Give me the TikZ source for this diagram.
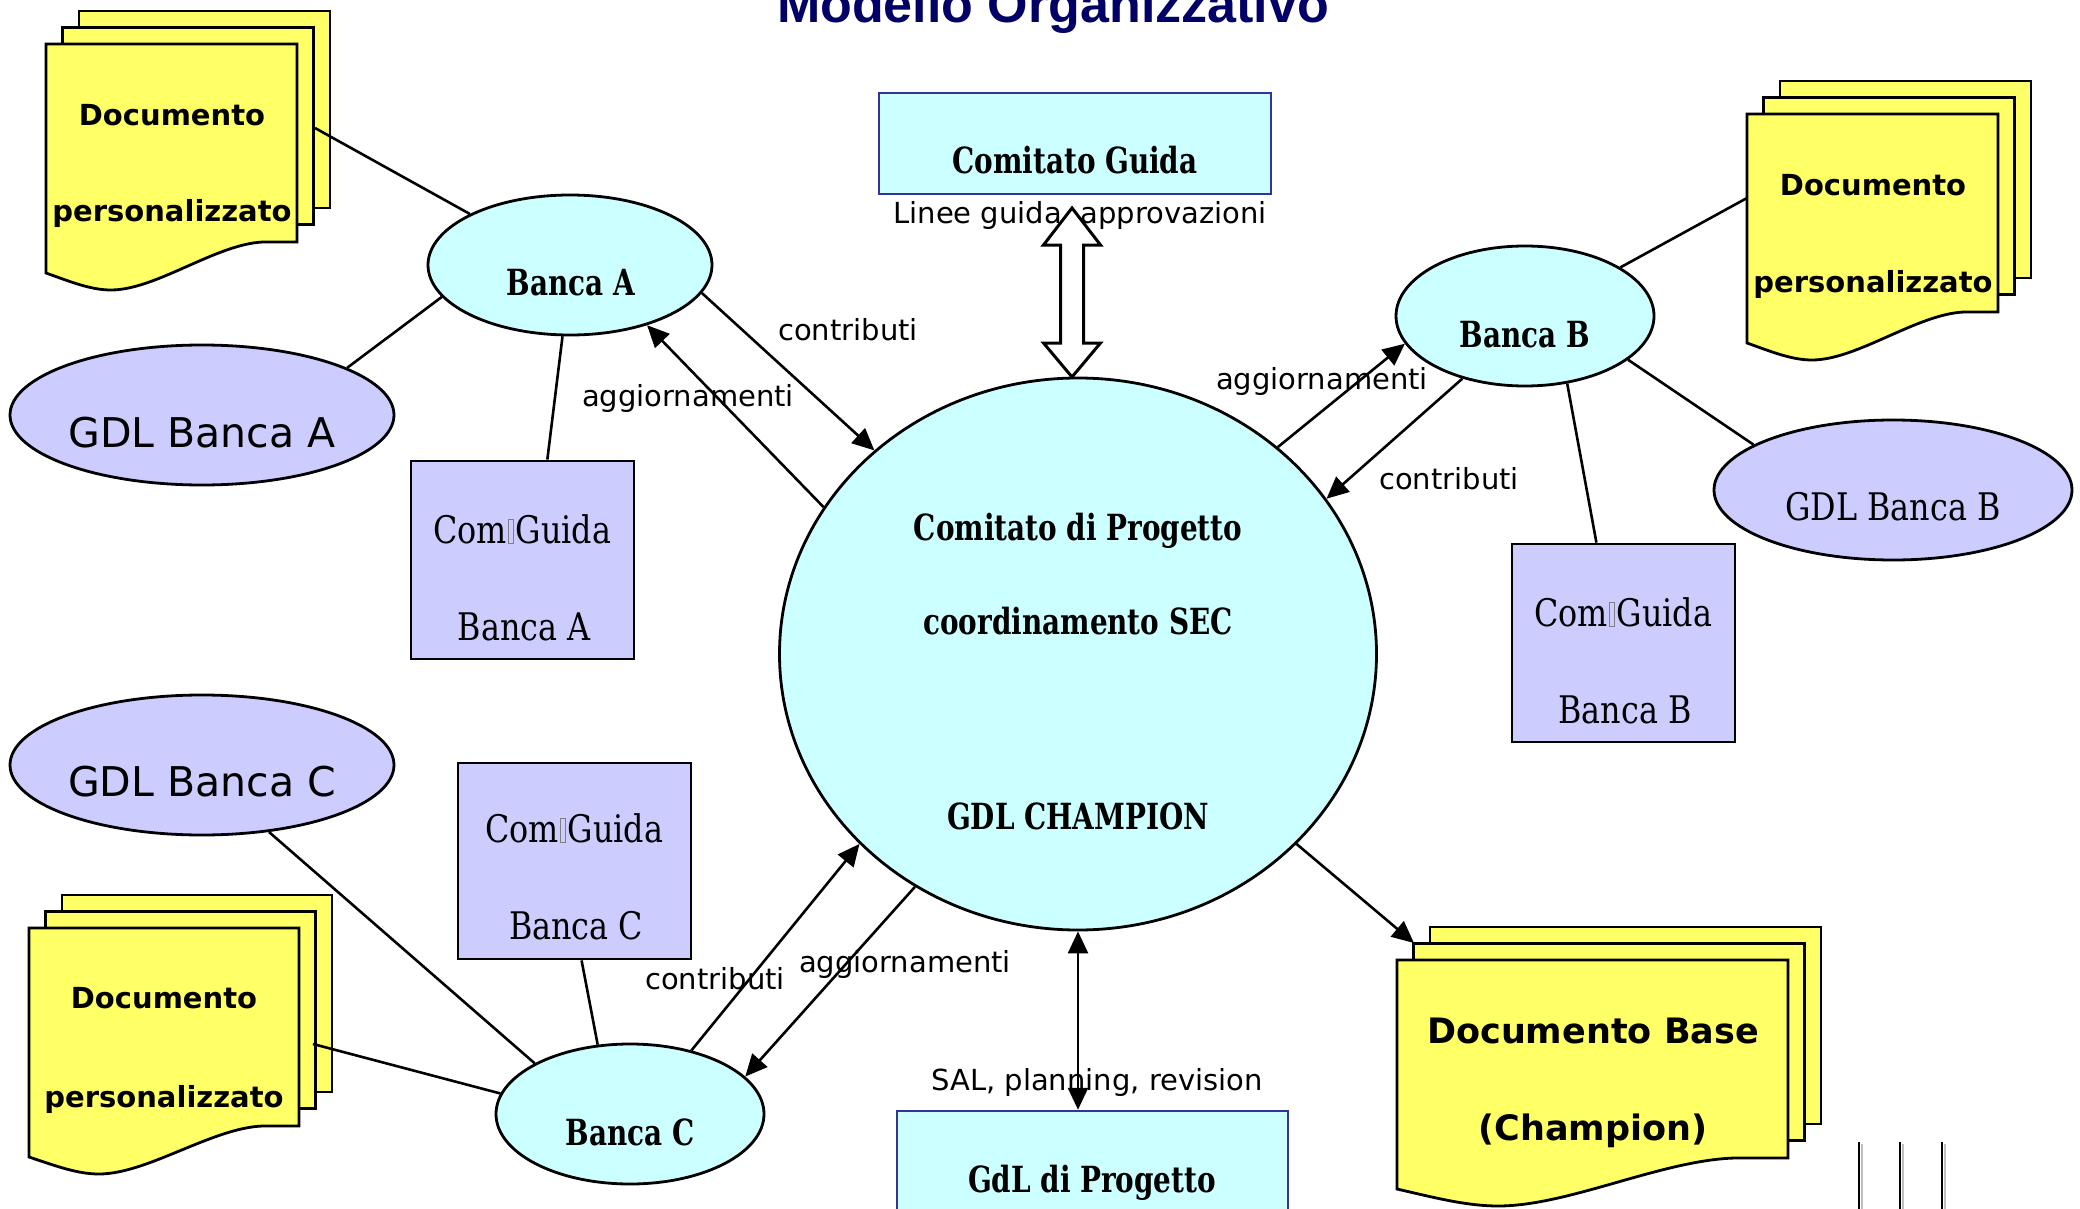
\documentclass[tikz,border=0pt]{standalone}
\usepackage{fontspec}
\usetikzlibrary{arrows.meta,shapes.geometric,calc}
\newfontfamily\dvsans{DejaVu Sans}
\newfontfamily\titlefont{Liberation Sans}
\newfontfamily\condserif{DejaVu Serif Condensed}[FakeStretch=0.93]
\newfontfamily\condserifbold{DejaVu Serif Condensed}[FakeStretch=0.86]
\definecolor{cyanfill}{HTML}{CCFFFF}
\definecolor{lavfill}{HTML}{CCCCFF}
\definecolor{docyellow}{HTML}{FFFF66}
\definecolor{boxblue}{HTML}{333399}
\definecolor{titleblue}{HTML}{000066}
\newcommand{\missingglyph}{\hspace{1.5pt}\textcolor{gray}{\fboxsep0pt\fboxrule0.7pt\fbox{\rule{0pt}{23pt}\hspace{4pt}}}\hspace{2pt}}
\tikzset{
  shp/.style={draw=black, line width=2.8pt},
  ell/.style={ellipse, shp, inner sep=0pt},
  bankell/.style={ell, fill=cyanfill},
  gdlell/.style={ell, fill=lavfill},
  comgbox/.style={rectangle, shp, fill=lavfill, inner sep=0pt},
  bluebox/.style={rectangle, draw=boxblue, line width=2.5pt, fill=cyanfill, inner sep=0pt},
  docline/.style={draw=black, line width=2.8pt, fill=docyellow, line join=miter},
  conn/.style={line width=2.6pt},
  arr/.style={conn, -{Triangle[length=22pt,width=20pt]}},
  lbl/.style={font=\dvsans\fontsize{29}{35}\selectfont, inner sep=0pt, anchor=base},
  doctxt/.style={font=\dvsans\bfseries\fontsize{29}{35}\selectfont, inner sep=0pt, anchor=base},
  basetxt/.style={font=\dvsans\bfseries\fontsize{35}{40}\selectfont, inner sep=0pt, anchor=base},
  gdltxt/.style={font=\dvsans\fontsize{41}{48}\selectfont, inner sep=0pt, anchor=base},
  rserif/.style={font=\condserif\fontsize{38}{45}\selectfont, inner sep=0pt, anchor=base},
  bserif/.style={font=\condserifbold\bfseries\fontsize{36}{42}\selectfont, inner sep=0pt, anchor=base},
}
\newcommand{\docstack}[4]{%
  \draw[docline] ({#2+33},{#3-33}) rectangle ({#2+33+#4},{#3-33+197});
  \draw[docline] ({#2+16.5},{#3-16.5}) rectangle ({#2+16.5+#4},{#3-16.5+197});
  \pgfmathsetmacro\dsxs{#4/251}
  \begin{scope}[shift={(#2,#3)}, xscale=\dsxs]
    \draw[docline] (0,0) -- (251,0) -- (251,198) -- (217,198) .. controls (170,200) and (110,246) .. (65,246) .. controls (45,246) and (25,238) .. (0,229) -- cycle;
  \end{scope}
  \coordinate (#1) at ({#2+#4/2},{#3});
}
\begin{document}
\begin{tikzpicture}[x=1pt,y=-1pt]
\useasboundingbox (0,0) rectangle (2080,1209);
\clip (0,0) rectangle (2080,1209);
\fill[white] (0,0) rectangle (2080,1209);

% title
\node[font=\titlefont\bfseries\fontsize{52}{60}\selectfont, text=titleblue, anchor=base, inner sep=0pt] (title) at (1053,23) {Modello Organizzativo};

% document stacks
\docstack{docTL}{46}{44}{251}
\docstack{docTR}{1747}{114}{251}
\docstack{docBL}{29}{928}{270}
\docstack{docBase}{1397}{960}{391}
\node[doctxt] (dtl1) at (172,126) {Documento};
\node[doctxt] (dtl2) at (172,222) {personalizzato};
\node[doctxt] (dtr1) at (1873,196) {Documento};
\node[doctxt] (dtr2) at (1873,292) {personalizzato};
\node[doctxt] (dbl1) at (164,1008) {Documento};
\node[doctxt] (dbl2) at (164,1107) {personalizzato};
\node[basetxt] (db1) at (1593,1043) {Documento Base};
\node[basetxt] (db2) at (1593,1140) {(Champion)};
\coordinate (docTLp) at (315,128);
\coordinate (docTRp) at (1747,198);
\coordinate (docBLp) at (313,1044);
\coordinate (docBasep) at (1414,943);

% boxes
\node[bluebox, minimum width=392pt, minimum height=101pt] (comguida) at (1075,143.5) {};
\node[bserif] (comguidat) at (1075,174) {Comitato Guida};
\node[bluebox, minimum width=391pt, minimum height=149pt] (gdlprog) at (1092.5,1185.5) {};
\node[bserif] (gdlprogt) at (1092,1192) {GdL di Progetto};

\node[comgbox, minimum width=223pt, minimum height=198pt] (comA) at (522.5,560) {};
\node[rserif] (comA1) at (522,543) {Com\missingglyph Guida};
\node[rserif] (comA2) at (524,640) {Banca A};
\node[comgbox, minimum width=223pt, minimum height=198pt] (comB) at (1623.5,643) {};
\node[rserif] (comB1) at (1623,626) {Com\missingglyph Guida};
\node[rserif] (comB2) at (1625,723) {Banca B};
\node[comgbox, minimum width=233pt, minimum height=196pt] (comC) at (574.5,861) {};
\node[rserif] (comC1) at (574,842) {Com\missingglyph Guida};
\node[rserif] (comC2) at (576,939) {Banca C};

% ellipses
\node[bankell, minimum width=597pt, minimum height=552pt] (central) at (1078,654) {};
\node[bserif] (ct1) at (1078,540) {Comitato di Progetto};
\node[bserif] (ct2) at (1078,634) {coordinamento SEC};
\node[bserif] (ct3) at (1078,829) {GDL CHAMPION};

\node[bankell, minimum width=284pt, minimum height=140pt] (bancaA) at (570,265) {};
\node[bserif] (bancaAt) at (571,295) {Banca A};
\node[bankell, minimum width=258pt, minimum height=140pt] (bancaB) at (1525,316) {};
\node[bserif] (bancaBt) at (1525,347) {Banca B};
\node[bankell, minimum width=268pt, minimum height=140pt] (bancaC) at (630,1114) {};
\node[bserif] (bancaCt) at (630,1145) {Banca C};

\node[gdlell, minimum width=384pt, minimum height=140pt] (gdlA) at (202,415) {};
\node[gdltxt] (gdlAt) at (202,447) {GDL Banca A};
\node[gdlell, minimum width=358pt, minimum height=140pt] (gdlB) at (1893,490) {};
\node[rserif] (gdlBt) at (1893,520) {GDL Banca B};
\node[gdlell, minimum width=384pt, minimum height=140pt] (gdlC) at (202,765) {};
\node[gdltxt] (gdlCt) at (202,796) {GDL Banca C};

% labels
\node[lbl] (lA1) at (848,340) {contributi};
\node[lbl] (lA2) at (688,406) {aggiornamenti};
\node[lbl] (lB1) at (1322,389) {aggiornamenti};
\node[lbl] (lB2) at (1449,489) {contributi};
\node[lbl] (lC1) at (905,972) {aggiornamenti};
\node[lbl] (lC2) at (715,989) {contributi};
\node[lbl] (lTop) at (1080,223) {Linee guida, approvazioni};
\node[lbl] (lBot) at (1097,1090) {SAL, planning, revision};

% connectors Banca A
\draw[conn] (docTLp) -- (bancaA.153.2);
\draw[conn] (bancaA.194.3) -- (gdlA.18.6);
\draw[conn] (bancaA.264.6) -- ($(comA.north west)!0.61!(comA.north east)$);
\draw[arr] (bancaA.-12.1) -- (central.135.7);
\draw[arr] (central.150.1) -- (bancaA.-38.7);
% connectors Banca B
\draw[arr] (central.46.1) -- (bancaB.193.8);
\draw[arr] (bancaB.225.5) -- (central.32.5);
\draw[conn] (bancaB.27.2) -- (docTRp);
\draw[conn] (bancaB.-23.3) -- (gdlB.162.5);
\draw[conn] (bancaB.-58.2) -- ($(comB.north west)!0.38!(comB.north east)$);
% connectors Banca C
\draw[arr] (central.235.8) -- (bancaC.18.3);
\draw[arr] (bancaC.46.7) -- (central.221.9);
\draw[conn] (bancaC.152.3) -- (gdlC.-45.4);
\draw[conn] (bancaC.115.2) -- ($(comC.south west)!0.53!(comC.south east)$);
\draw[conn] (bancaC.171.5) -- (docBLp);
% central to others
\draw[arr] (central.-41.1) -- (docBasep);
\draw[conn, {Triangle[length=22pt,width=20pt]}-{Triangle[length=22pt,width=20pt]}] (central.south) -- (central.south |- gdlprog.north);

% block double arrow
\draw[line width=3pt, fill=white, line join=miter] (1072,208) -- (1100.5,245) -- (1083.5,245) -- (1083.5,343) -- (1100.5,343) -- (1072,377) -- (1043.5,343) -- (1060.5,343) -- (1060.5,245) -- (1043.5,245) -- cycle;

% vertical marks
\foreach \mx in {1859,1900,1942} {
  \draw[line width=2.5pt, black!25] (\mx+3,1144) -- (\mx+3,1212);
  \draw[line width=2.5pt, black] (\mx,1142) -- (\mx,1212);
}
\end{tikzpicture}
\end{document}
